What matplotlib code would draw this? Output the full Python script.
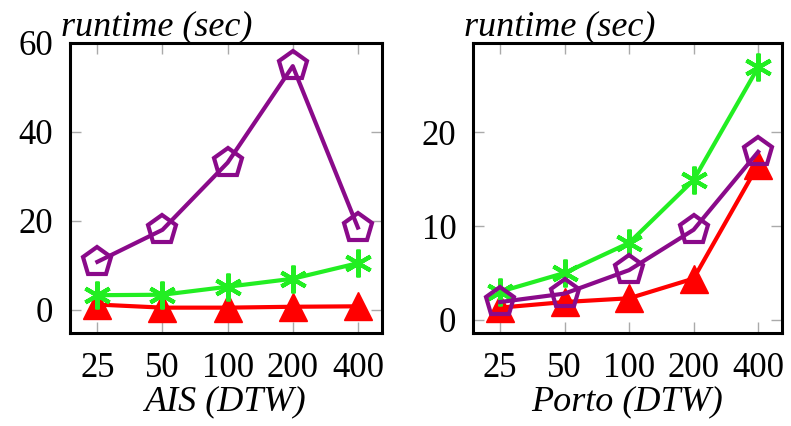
import matplotlib
matplotlib.use('Agg')
import matplotlib.pyplot as plt

# x categories (window size)
sizes = ['25', '50', '100', '200', '400']

# AIS (DTW) runtimes in seconds
ais_purple = [10.8, 18.0, 33.1, 54.8, 18.5]
ais_green = [3.3, 3.4, 5.2, 7.0, 10.5]
ais_red = [1.2, 0.5, 0.5, 0.7, 0.8]

# Porto (DTW) runtimes in seconds
porto_purple = [1.9, 2.8, 5.3, 9.6, 17.9]
porto_green = [3.0, 5.0, 8.2, 14.9, 26.9]
porto_red = [1.3, 1.9, 2.3, 4.4, 16.5]

plt.rcParams['font.family'] = ['Liberation Serif', 'DejaVu Serif']

PURPLE = '#8a0a8a'
GREEN = '#22ee22'
RED = '#ff0000'
asterisk = (6, 2, 0)

fig = plt.figure(figsize=(7.91, 4.26), dpi=100)
ax1 = fig.add_axes([70 / 791, 1 - 333 / 426, 312 / 791, 290 / 426])
ax2 = fig.add_axes([473 / 791, 1 - 333 / 426, 309 / 791, 290 / 426])

panels = [
    (ax1, ais_red, ais_green, ais_purple, 'AIS (DTW)', (-5.2, 60), [0, 20, 40, 60]),
    (ax2, porto_red, porto_green, porto_purple, 'Porto (DTW)', (-1.4, 29.5), [0, 10, 20]),
]

for ax, red, green, purple, label, ylim, yticks in panels:
    x = range(len(sizes))
    ax.plot(x, red, color=RED, lw=3, marker='^', ms=20, zorder=3)
    ax.plot(x, green, color=GREEN, lw=3, marker=asterisk, ms=20, mew=3, zorder=4)
    ax.plot(x, purple, color=PURPLE, lw=3, marker='p', ms=21, mfc='none',
            mew=3, zorder=5)
    ax.set_xlim(-0.42, 4.37)
    ax.set_ylim(*ylim)
    ax.set_xticks(list(x))
    ax.set_xticklabels(sizes)
    ax.set_yticks(yticks)
    ax.tick_params(direction='in', length=8, width=1, color='#aaaaaa',
                   top=True, right=True, labelsize=25)
    ax.tick_params(axis='y', pad=12)
    ax.tick_params(axis='x', pad=14)
    for s in ax.spines.values():
        s.set_linewidth(2.2)
    ax.set_xlabel(label, fontsize=26, style='italic', labelpad=0)
    ax.text(-0.03, 1.0, 'runtime (sec)', transform=ax.transAxes,
            fontsize=26, style='italic', ha='left', va='bottom')

fig.savefig('out.png', dpi=100)
